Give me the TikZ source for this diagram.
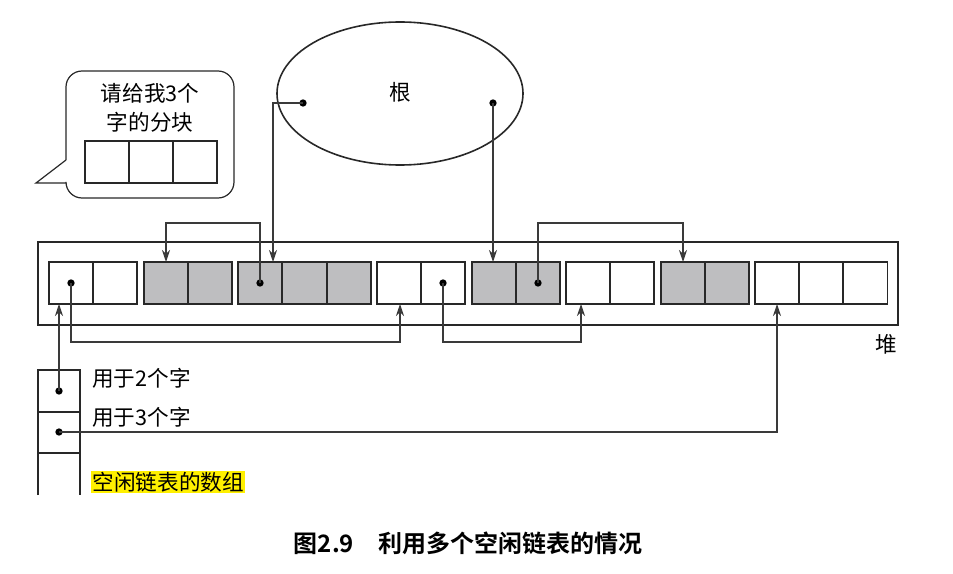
\documentclass[tikz,border=0pt]{standalone}
\usepackage{fontspec}
\setmainfont{Noto Sans CJK SC}
\newfontfamily\capfont{Noto Sans CJK SC}[BoldFont=* Bold]
\usetikzlibrary{arrows.meta,shapes.geometric}
\definecolor{cellgray}{RGB}{190,190,192}
\definecolor{linec}{RGB}{40,40,40}
\definecolor{hl}{RGB}{255,240,0}
\tikzset{
  cellw/.style={draw=linec,line width=1.3pt,fill=white,minimum width=44pt,minimum height=42pt,inner sep=0pt,outer sep=0pt},
  cellg/.style={cellw,fill=cellgray},
  link/.style={draw=linec!80!gray,line width=0.8pt,-{Stealth[length=9pt,width=6pt]}},
  plain/.style={draw=linec!80!gray,line width=0.8pt},
  dotn/.style={circle,fill=black,inner sep=0pt,minimum size=5.5pt},
  lbl/.style={font=\fontsize{16.2}{19}\selectfont,inner sep=0pt,anchor=west},
}
\begin{document}
\begin{tikzpicture}[x=0.75pt,y=-0.75pt,every node/.style={font=\fontsize{16.2}{19}\selectfont}]
\useasboundingbox (0,0) rectangle (953,574);
% speech bubble
\draw[linec,line width=0.9pt,rounded corners=12pt]
  (66,160) -- (66,71) -- (234,71) -- (234,198) -- (66,198) -- (66,183);
\draw[linec,line width=0.9pt,line join=miter] (66,160) -- (36,183) -- (66,183);
\node[inner sep=0pt] (req1) at (150,93) {请给我3个};
\node[inner sep=0pt] (req2) at (150,122) {字的分块};
\foreach \i/\x in {1/107,2/151,3/195}
  \node[cellw,minimum width=44*0.75pt,minimum height=42*0.75pt] (b\i) at (\x,162) {};
% root ellipse
\node[ellipse,draw=linec,line width=1.2pt,minimum width=246*0.75pt,minimum height=143*0.75pt,inner sep=0pt] (root) at (400,93.5) {};
\node (rootlbl) at (400,92) {根};
\node[dotn] (rl) at (303,103) {};
\node[dotn] (rr) at (493,103) {};
% heap
\node[draw=linec,line width=1.7pt,minimum width=860*0.75pt,minimum height=83*0.75pt,inner sep=0pt] (heap) at (468,283.5) {};
\node[inner sep=0pt] (heaplbl) at (886,344) {堆};
\tikzset{cs/.style={minimum width=44*0.75pt,minimum height=42*0.75pt}}
% group 1 (free, 2)
\node[cellw,cs] (c1) at (71,283) {};
\node[cellw,cs] (c2) at (115,283) {};
% group 2 (used, 2)
\node[cellg,cs] (c3) at (166,283) {};
\node[cellg,cs] (c4) at (210,283) {};
% group 3 (used, 3)
\node[cellg,cs] (c5) at (260,283) {};
\node[cellg,cs] (c6) at (304.5,283) {};
\node[cellg,cs] (c7) at (349,283) {};
% group 4 (free, 2)
\node[cellw,cs] (c8) at (399,283) {};
\node[cellw,cs] (c9) at (443,283) {};
% group 5 (used, 2)
\node[cellg,cs] (c10) at (494,283) {};
\node[cellg,cs] (c11) at (538,283) {};
% group 6 (free, 2)
\node[cellw,cs] (c12) at (588,283) {};
\node[cellw,cs] (c13) at (632,283) {};
% group 7 (used, 2)
\node[cellg,cs] (c14) at (683,283) {};
\node[cellg,cs] (c15) at (727,283) {};
% group 8 (free, 3)
\node[cellw,cs] (c16) at (777,283) {};
\node[cellw,cs] (c17) at (821,283) {};
\node[cellw,cs] (c18) at (865.5,283) {};
% dots in heap
\node[dotn] (d1) at (71,283) {};
\node[dotn] (d5) at (260,283) {};
\node[dotn] (d9) at (443,283) {};
\node[dotn] (d11) at (538,283) {};
% free list array
\draw[linec,line width=1.3pt] (38,495) -- (38,370) -- (80,370) -- (80,495);
\draw[linec,line width=1.3pt] (38,412) -- (80,412);
\draw[linec,line width=1.3pt] (38,453) -- (80,453);
\node[dotn] (f2) at (59,391) {};
\node[dotn] (f3) at (59,432) {};
\node[lbl] (l2) at (92,378) {用于2个字};
\node[lbl] (l3) at (92,417) {用于3个字};
\node[lbl,fill=hl,inner sep=1pt] (l4) at (91,482) {空闲链表的数组};
% connectors
\coordinate (c1b) at (59,304);
\coordinate (c8b) at (400,304);
\coordinate (c12b) at (581,304);
\draw[link] (f2.center) -- (c1b);
\draw[link] (d1.center) -- (71,342) -| (c8b);
\draw[link] (d9.center) -- (443,342) -| (c12b);
\draw[link] (f3.center) -| (c16.south);
\draw[link] (d5.center) -- (260,223) -| (c3.north);
\draw[link] (d11.center) -- (538,223) -| (c14.north);
\draw[link] (rl.center) -| (273,262);
\draw[link] (rr.center) -- (493,262);
% caption
\node[font=\capfont\bfseries\fontsize{18}{20}\selectfont] (cap) at (468,543) {图2.9\hspace{1em}利用多个空闲链表的情况};
\end{tikzpicture}
\end{document}
